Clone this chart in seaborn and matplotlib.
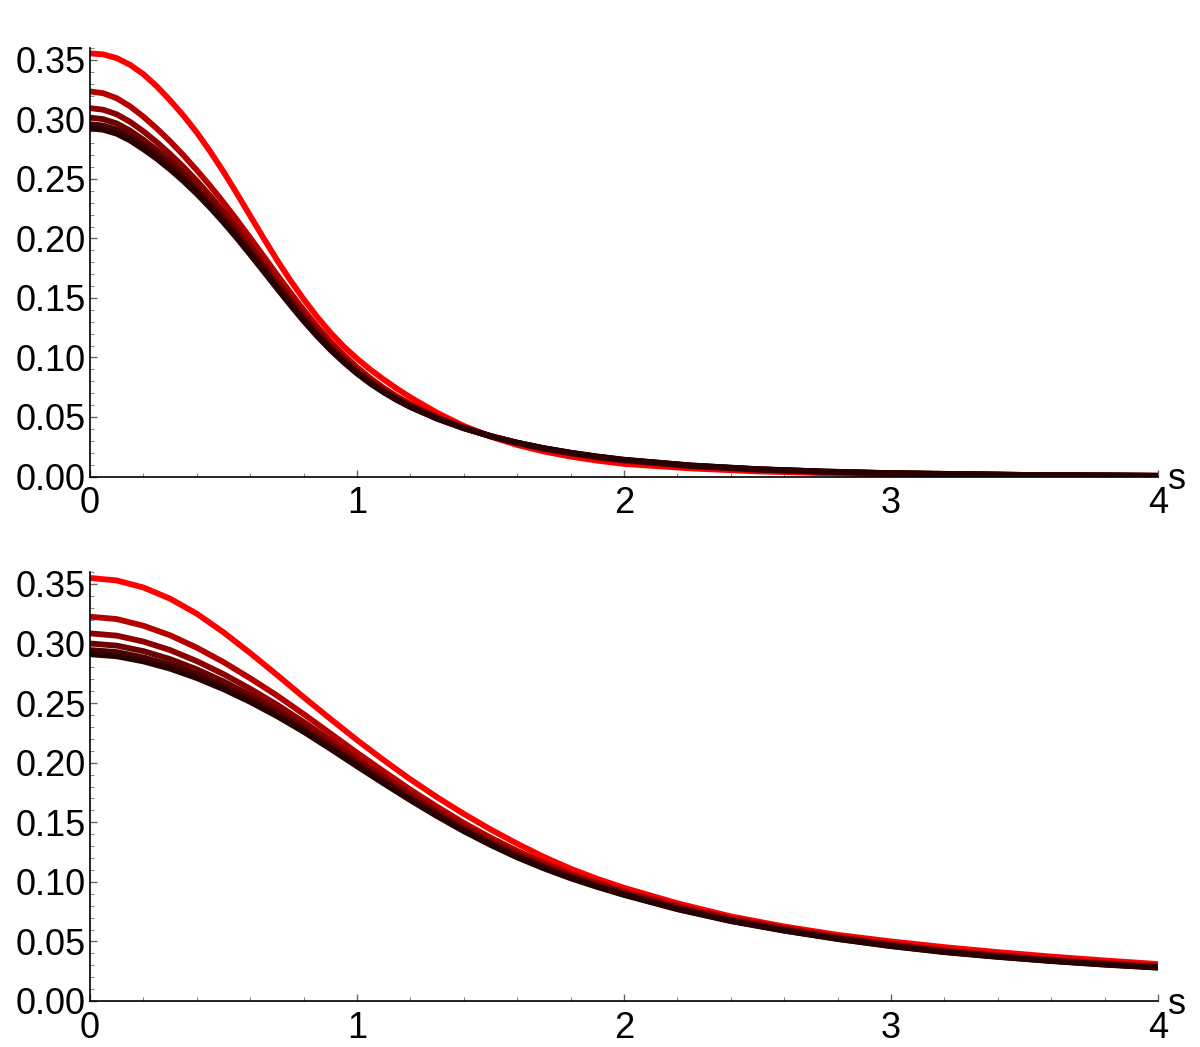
import numpy as np
import pandas as pd
import matplotlib
matplotlib.use("Agg")
import matplotlib.pyplot as plt
import seaborn as sns
from matplotlib.ticker import MultipleLocator, FormatStrFormatter

# ---------------- data ----------------
s_top = [0.0, 0.05, 0.1, 0.15, 0.2, 0.25, 0.3, 0.35, 0.4, 0.45, 0.5, 0.55, 0.6, 0.65,
         0.7, 0.75, 0.8, 0.85, 0.9, 0.95, 1.0, 1.05, 1.1, 1.15, 1.2,
         1.3, 1.4, 1.5, 1.6, 1.7, 1.8, 1.9, 2.0,
         2.25, 2.5, 2.75, 3.0, 3.5, 4.0]

top_n1 = [0.3555, 0.3546, 0.3515, 0.3459, 0.338, 0.3278, 0.316, 0.3032, 0.289, 0.2731,
          0.256, 0.2378, 0.219, 0.2003, 0.182, 0.1649, 0.149, 0.1343, 0.121, 0.1093,
          0.099, 0.0898, 0.0815, 0.0737, 0.0665,
          0.0535, 0.0425, 0.0335, 0.0265, 0.021, 0.0167, 0.0133, 0.0106,
          0.0068, 0.0043, 0.0028, 0.0018, 0.0008, 0.0004]
top_n2 = [0.3235, 0.3220, 0.3178, 0.3110, 0.3023, 0.2924, 0.2816, 0.2699, 0.2573, 0.2442,
          0.2302, 0.2156, 0.2005, 0.1851, 0.1697, 0.1546, 0.1400, 0.1263, 0.1136, 0.1022,
          0.0918, 0.0826, 0.0744, 0.0672, 0.0608,
          0.0501, 0.0413, 0.0341, 0.0281, 0.0232, 0.0192, 0.0159, 0.0132,
          0.0085, 0.0056, 0.0037, 0.0025, 0.0011, 0.0005]
top_n3 = [0.3095, 0.3081, 0.3043, 0.2980, 0.2900, 0.2809, 0.2709, 0.2601, 0.2484, 0.2359,
          0.2227, 0.2087, 0.1942, 0.1794, 0.1645, 0.1499, 0.1358, 0.1226, 0.1104, 0.0994,
          0.0894, 0.0806, 0.0727, 0.0658, 0.0597,
          0.0494, 0.0409, 0.0340, 0.0282, 0.0235, 0.0196, 0.0163, 0.0136,
          0.0089, 0.0059, 0.0039, 0.0026, 0.0012, 0.0005]
top_n4 = [0.3015, 0.3002, 0.2966, 0.2906, 0.2829, 0.2744, 0.2648, 0.2545, 0.2433, 0.2312,
          0.2184, 0.2048, 0.1906, 0.1761, 0.1615, 0.1472, 0.1334, 0.1205, 0.1086, 0.0978,
          0.0880, 0.0794, 0.0718, 0.0650, 0.0590,
          0.0490, 0.0407, 0.0339, 0.0283, 0.0236, 0.0198, 0.0165, 0.0138,
          0.0091, 0.0060, 0.0041, 0.0027, 0.0013, 0.0006]
top_n5 = [0.2960, 0.2948, 0.2914, 0.2855, 0.2781, 0.2699, 0.2607, 0.2507, 0.2397, 0.2280,
          0.2154, 0.2020, 0.1881, 0.1738, 0.1595, 0.1454, 0.1318, 0.1190, 0.1073, 0.0967,
          0.0871, 0.0786, 0.0711, 0.0645, 0.0586,
          0.0487, 0.0406, 0.0339, 0.0284, 0.0237, 0.0199, 0.0167, 0.0140,
          0.0092, 0.0061, 0.0041, 0.0028, 0.0013, 0.0006]
top_n6 = [0.2925, 0.2913, 0.2880, 0.2823, 0.2750, 0.2670, 0.2580, 0.2482, 0.2375, 0.2259,
          0.2135, 0.2003, 0.1865, 0.1724, 0.1582, 0.1442, 0.1307, 0.1181, 0.1065, 0.0960,
          0.0865, 0.0781, 0.0707, 0.0641, 0.0583,
          0.0485, 0.0405, 0.0339, 0.0284, 0.0238, 0.0200, 0.0168, 0.0141,
          0.0093, 0.0062, 0.0042, 0.0028, 0.0013, 0.0006]

s_bot = [0.0, 0.1, 0.2, 0.3, 0.4, 0.5, 0.6, 0.7, 0.8, 0.9, 1.0, 1.1, 1.2, 1.3, 1.4,
         1.5, 1.6, 1.7, 1.8, 1.9, 2.0, 2.2, 2.4, 2.6, 2.8, 3.0, 3.2, 3.4, 3.6, 3.8, 4.0]

bot_n1 = [0.355, 0.3529, 0.347, 0.3376, 0.325, 0.3094, 0.292, 0.2737, 0.255, 0.2368,
          0.219, 0.2021, 0.186, 0.1710, 0.157, 0.1440, 0.132, 0.1209, 0.111, 0.1025,
          0.095, 0.082, 0.071, 0.0625, 0.0555, 0.050, 0.0452, 0.041, 0.0373, 0.034, 0.031]
bot_n2 = [0.3225, 0.3205, 0.3149, 0.3069, 0.2965, 0.2844, 0.2708, 0.2564, 0.2408, 0.2246,
          0.2083, 0.1927, 0.1773, 0.1630, 0.1494, 0.1371, 0.1260, 0.1162, 0.1073, 0.0995,
          0.0923, 0.0798, 0.0695, 0.0612, 0.0540, 0.0479, 0.0427, 0.0386, 0.0349, 0.0319,
          0.0293]
bot_n3 = [0.3085, 0.3066, 0.3016, 0.2945, 0.2852, 0.2743, 0.2620, 0.2487, 0.2342, 0.2189,
          0.2033, 0.1882, 0.1734, 0.1595, 0.1464, 0.1344, 0.1236, 0.1140, 0.1054, 0.0978,
          0.0908, 0.0786, 0.0684, 0.0602, 0.0531, 0.0471, 0.0420, 0.0379, 0.0343, 0.0313,
          0.0287]
bot_n4 = [0.3000, 0.2982, 0.2936, 0.2869, 0.2783, 0.2682, 0.2567, 0.2441, 0.2302, 0.2154,
          0.2002, 0.1855, 0.1710, 0.1574, 0.1445, 0.1328, 0.1221, 0.1127, 0.1042, 0.0968,
          0.0899, 0.0778, 0.0677, 0.0596, 0.0526, 0.0465, 0.0415, 0.0375, 0.0339, 0.0309,
          0.0284]
bot_n5 = [0.2945, 0.2928, 0.2883, 0.2820, 0.2738, 0.2642, 0.2532, 0.2410, 0.2276, 0.2131,
          0.1983, 0.1837, 0.1695, 0.1560, 0.1433, 0.1317, 0.1211, 0.1118, 0.1035, 0.0961,
          0.0894, 0.0773, 0.0673, 0.0592, 0.0522, 0.0462, 0.0412, 0.0372, 0.0337, 0.0307,
          0.0281]
bot_n6 = [0.2910, 0.2893, 0.2850, 0.2789, 0.2710, 0.2617, 0.2510, 0.2391, 0.2260, 0.2117,
          0.1970, 0.1826, 0.1685, 0.1551, 0.1425, 0.1310, 0.1205, 0.1113, 0.1030, 0.0957,
          0.0890, 0.0770, 0.0670, 0.0590, 0.0520, 0.0460, 0.0410, 0.0370, 0.0335, 0.0305,
          0.0280]

curve_ids = [1, 2, 3, 4, 5, 6]
curve_colors = ['#ff0000', '#b40000', '#8c0000', '#6a0000', '#480000', '#280000']

y_ticks = [0.00, 0.05, 0.10, 0.15, 0.20, 0.25, 0.30, 0.35]
x_ticks = [0, 1, 2, 3, 4]
axis_label = "s"

top_series = [top_n1, top_n2, top_n3, top_n4, top_n5, top_n6]
bot_series = [bot_n1, bot_n2, bot_n3, bot_n4, bot_n5, bot_n6]


def long_frame(xs, series):
    rows = []
    for cid, ys in zip(curve_ids, series):
        for x, y in zip(xs, ys):
            rows.append((cid, x, y))
    return pd.DataFrame(rows, columns=["n", "s", "v"])


df_top = long_frame(s_top, top_series)
df_bot = long_frame(s_bot, bot_series)

# ---------------- style ----------------
sns.set_theme(style="white")
plt.rcParams['font.family'] = ['Liberation Sans', 'DejaVu Sans']

W, H = 1200, 1047
fig = plt.figure(figsize=(W / 100, H / 100), dpi=100)

left = 90 / W
width = 1068 / W
ax_top = fig.add_axes([left, 1 - 476.5 / H, width, 428.5 / H])
ax_bot = fig.add_axes([left, 1 - 1001 / H, width, 429 / H])

palette = dict(zip(curve_ids, curve_colors))

for ax, df in ((ax_top, df_top), (ax_bot, df_bot)):
    sns.lineplot(data=df, x="s", y="v", hue="n", palette=palette, legend=False,
                 linewidth=4.2, estimator=None, sort=False, ax=ax)
    for ln in ax.get_lines():
        ln.set_solid_joinstyle("round")
        ln.set_solid_capstyle("butt")
    ax.set_xlim(0, 4)
    ax.set_ylim(0, 0.36)
    ax.set_xlabel("")
    ax.set_ylabel("")
    for side in ("top", "right"):
        ax.spines[side].set_visible(False)
    for side in ("left", "bottom"):
        ax.spines[side].set_visible(True)
        ax.spines[side].set_color("black")
        ax.spines[side].set_linewidth(1.2)
    ax.set_xticks(x_ticks)
    ax.set_yticks(y_ticks)
    ax.yaxis.set_major_formatter(FormatStrFormatter("%.2f"))
    ax.xaxis.set_major_formatter(FormatStrFormatter("%d"))
    ax.xaxis.set_minor_locator(MultipleLocator(0.2))
    ax.yaxis.set_minor_locator(MultipleLocator(0.01))
    ax.tick_params(which="major", direction="in", length=5, width=1.0,
                   color="#666666", labelsize=26, labelcolor="black")
    ax.tick_params(which="minor", direction="in", length=3, width=0.8,
                   color="#888888")
    ax.tick_params(axis="y", which="both", left=True, pad=3)
    ax.tick_params(axis="x", which="both", bottom=True, pad=7)
    ax.text(1.018, -0.008, axis_label, transform=ax.transAxes, ha="center",
            va="center", fontsize=26, color="black")
    ax.patch.set_alpha(0)

fig.savefig("out.png", dpi=100, facecolor="white")
